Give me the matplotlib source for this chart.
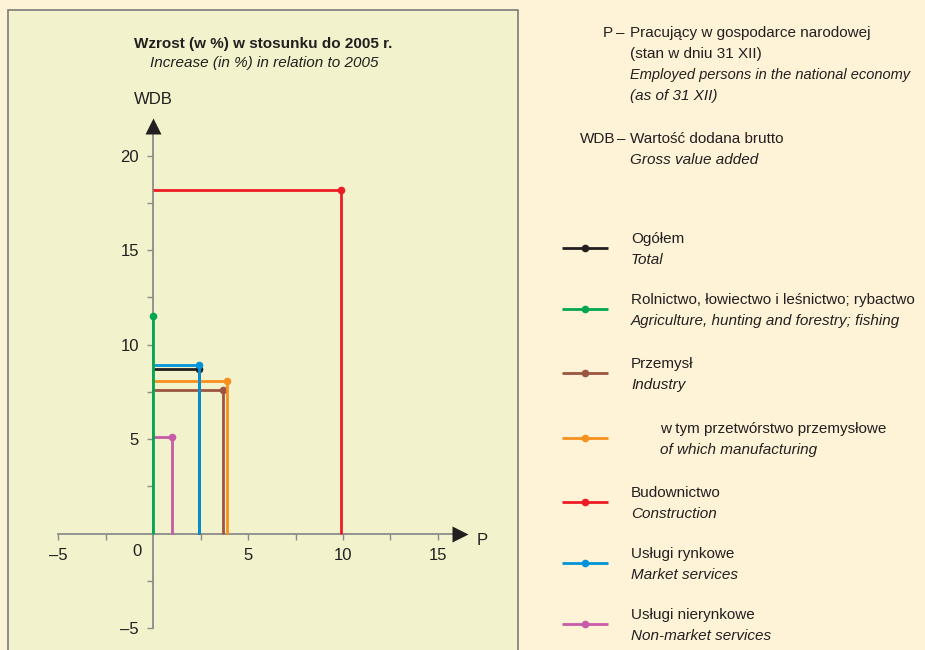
import matplotlib
matplotlib.use("Agg")
import matplotlib.pyplot as plt
from matplotlib.patches import Rectangle

plt.rcParams['font.family'] = ['Liberation Sans', 'DejaVu Sans']

# ---------------- data ----------------
series_pl = ["Ogółem", "Rolnictwo, łowiectwo i leśnictwo; rybactwo", "Przemysł",
             "w tym przetwórstwo przemysłowe", "Budownictwo", "Usługi rynkowe", "Usługi nierynkowe"]
series_en = ["Total", "Agriculture, hunting and forestry; fishing", "Industry",
             "of which manufacturing", "Construction", "Market services", "Non-market services"]
p_vals = [2.4, 0.0, 3.7, 3.9, 9.9, 2.4, 1.0]
wdb_vals = [8.7, 11.5, 7.6, 8.1, 18.2, 8.9, 5.1]
colors = ["#231f20", "#00a650", "#9b5540", "#f7901e", "#ed1c24", "#0093d8", "#c95aa8"]
draw_order = [0, 2, 3, 4, 5, 6, 1]

x_ticks = [-5, 5, 10, 15]
x_ticklabels = ["–5", "5", "10", "15"]
x_minor = [-2.5, 2.5, 7.5, 12.5]
y_ticks = [-5, 5, 10, 15, 20]
y_ticklabels = ["–5", "5", "10", "15", "20"]
y_minor = [-2.5, 2.5, 7.5, 12.5, 17.5]

W, H = 925, 650
FS = 11
fig = plt.figure(figsize=(W / 100, H / 100), dpi=100)
fig.patch.set_facecolor("#fef3d7")

TXT = "#231f20"
AX = "#8c8c8c"

# panel
fig.patches.append(Rectangle((8 / W, -0.01), (518 - 8) / W, (H - 10) / H + 0.01, transform=fig.transFigure,
                             facecolor="#f2f3cc", edgecolor="#7a7a7a", lw=1.2, zorder=-5))

# main axes: x pixel = 153 + 19*x ; y pixel(top) = 533.7 - 18.9*y
x0, x1 = -6, 17
y0, y1 = -6, 23
left = (153 + 19 * x0) / W
width = 19 * (x1 - x0) / W
top_px = 533.7 - 18.9 * y1
bot_px = 533.7 - 18.9 * y0
ax = fig.add_axes([left, (H - bot_px) / H, width, (bot_px - top_px) / H])
ax.set_xlim(x0, x1)
ax.set_ylim(y0, y1)
ax.patch.set_visible(False)
for s in ["top", "right"]:
    ax.spines[s].set_visible(False)
ax.spines["left"].set_position(("data", 0))
ax.spines["bottom"].set_position(("data", 0))
ax.spines["bottom"].set_bounds(-5, 16)
ax.spines["left"].set_bounds(-5, 21.5)
for s in ["left", "bottom"]:
    ax.spines[s].set_color(AX)
    ax.spines[s].set_linewidth(1.3)

ax.set_xticks(x_ticks)
ax.set_xticklabels(x_ticklabels)
ax.set_xticks(x_minor, minor=True)
ax.set_yticks(y_ticks)
ax.set_yticklabels(y_ticklabels)
ax.set_yticks(y_minor, minor=True)
ax.tick_params(which="both", color=AX, width=1.0, length=4, labelsize=FS + 1, labelcolor=TXT, pad=6)
ax.text(-0.85, -0.55, "0", ha="center", va="top", fontsize=FS + 1, color=TXT)

# arrows
ax.plot([16.15], [0], marker=">", ms=12, color=TXT, clip_on=False, zorder=5, mec="none")
ax.plot([0], [21.55], marker="^", ms=12, color=TXT, clip_on=False, zorder=5, mec="none")
ax.text(17.3, -0.35, "P", ha="center", va="center", fontsize=FS + 1, color=TXT)
ax.text(0, 22.95, "WDB", ha="center", va="center", fontsize=FS + 1, color=TXT)

for z, i in enumerate(draw_order):
    p, w = p_vals[i], wdb_vals[i]
    ax.plot([0, p, p], [w, w, 0], color=colors[i], lw=2.0, solid_capstyle="butt",
            solid_joinstyle="miter", zorder=3 + z * 0.1, clip_on=False)
    ax.plot([p], [w], marker="o", ms=5.5, color=colors[i], mec="none", zorder=3 + z * 0.1 + 0.05,
            clip_on=False)

# overlay axes for titles & legend (pixel coordinates)
ov = fig.add_axes([0, 0, 1, 1])
ov.set_xlim(0, W)
ov.set_ylim(H, 0)
ov.axis("off")
ov.patch.set_visible(False)

ov.text(263, 44, "Wzrost (w %) w stosunku do 2005 r.", ha="center", va="center",
        fontsize=FS, fontweight="bold", color=TXT)
ov.text(264, 63, "Increase (in %) in relation to 2005", ha="center", va="center",
        fontsize=FS, style="italic", color=TXT)

ov.text(613, 33, "P", ha="right", va="center", fontsize=FS, color=TXT)
ov.text(620, 33, "–", ha="center", va="center", fontsize=FS, color=TXT)
ov.text(630, 33, "Pracujący w gospodarce narodowej", ha="left", va="center", fontsize=FS, color=TXT)
ov.text(630, 54, "(stan w dniu 31 XII)", ha="left", va="center", fontsize=FS, color=TXT)
ov.text(630, 75, "Employed persons in the national economy", ha="left", va="center", fontsize=FS - 0.5,
        style="italic", color=TXT)
ov.text(630, 96, "(as of 31 XII)", ha="left", va="center", fontsize=FS, style="italic", color=TXT)
ov.text(615, 139, "WDB", ha="right", va="center", fontsize=FS, color=TXT)
ov.text(621, 139, "–", ha="center", va="center", fontsize=FS, color=TXT)
ov.text(630, 139, "Wartość dodana brutto", ha="left", va="center", fontsize=FS, color=TXT)
ov.text(630, 160, "Gross value added", ha="left", va="center", fontsize=FS, style="italic", color=TXT)

row_top = [239, 300, 364, 429, 493, 554, 615]
for i in range(len(series_pl)):
    yt = row_top[i]
    ly = yt + 9
    ov.plot([562, 608], [ly, ly], color=colors[i], lw=2.0, solid_capstyle="butt")
    ov.plot([585], [ly], marker="o", ms=5.5, color=colors[i], mec="none")
    tx = 660 if i == 3 else 631
    ov.text(tx, yt, series_pl[i], ha="left", va="center", fontsize=FS, color=TXT)
    ov.text(tx, yt + 21, series_en[i], ha="left", va="center", fontsize=FS, style="italic", color=TXT)

fig.savefig("out.png", dpi=100, facecolor=fig.get_facecolor())
